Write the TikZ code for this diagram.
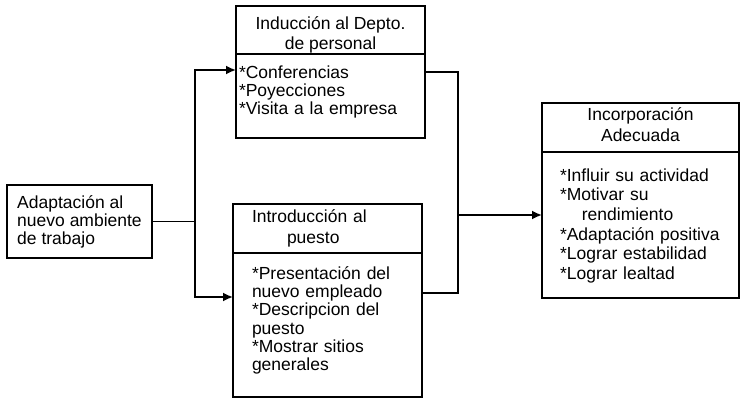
\documentclass[tikz,border=0pt]{standalone}
\usepackage{fontspec}
\setmainfont{Liberation Sans}
\usetikzlibrary{arrows.meta, positioning}
\newcommand{\stagewidth}{189pt}
\newcommand{\lw}{1.8pt}
\tikzstyle{startbox} = [% the situation the process starts from
  rectangle,
  anchor=north west,
  minimum width=145pt,
  minimum height=73pt,
  align=left,
  draw=black,
  line width=\lw,
  outer sep=0pt,
  font=\fontsize{17.5}{18}\selectfont
  ]
\tikzstyle{stagetitle} = [% heading part of a stage
  rectangle,
  anchor=north west,
  minimum width=\stagewidth,
  minimum height=48pt,
  inner sep=2pt,
  align=center,
  draw=black,
  line width=\lw,
  outer sep=0pt,
  font=\fontsize{17.5}{21}\selectfont
  ]
\tikzstyle{stagelist} = [% list of actions of a stage
  rectangle,
  inner ysep=0pt,
  align=left,
  draw=black,
  line width=\lw,
  outer sep=0pt,
  font=\fontsize{17.5}{18.3}\selectfont
  ]
\tikzstyle{flow} = [% plain flow line
  line width=\lw
  ]
\tikzstyle{arrow} = [% arrow format
  line width=\lw,
  -{Latex[length=10pt,width=9pt]}
  ]

\begin{document}
\begin{tikzpicture}[x=1pt, y=-1pt, node distance=0pt]
\useasboundingbox (0,0) rectangle (740,398);

%%% Nodes
\node[startbox] (adapt) at (7,185) {Adaptación al\\nuevo ambiente\\de trabajo};
\node[stagetitle, text height=41.3pt, text depth=2.7pt, font=\fontsize{17.5}{20}\selectfont] (inducT) at (236,6) {Inducción al Depto.\\de personal};
\node[stagelist, text width=183pt, inner xsep=3pt, text height=24.3pt, text depth=59.7pt] (inducL) [below=of inducT] {{*}Conferencias\\{*}Poyecciones\\{*}Visita a la empresa};
\node[stagetitle, minimum height=49pt, text width=151pt, inner xsep=19pt, align=left] (introdT) at (233,204) {Introducción al\\\hspace*{2em}puesto};
\node[stagelist, text width=151pt, inner xsep=19pt, text height=26.3pt, text depth=117.7pt] (introdL) [below=of introdT] {{*}Presentación del\\nuevo empleado\\{*}Descripcion del\\puesto\\{*}Mostrar sitios\\generales};
\node[stagetitle, minimum width=197pt, minimum height=49pt, text height=36.3pt, text depth=8.7pt] (incorpT) at (542,103) {Incorporación\\Adecuada};
\node[stagelist, text width=161pt, inner xsep=18pt, text height=29.3pt, text depth=116.7pt, font=\fontsize{17.5}{19.6}\selectfont] (incorpL) [below=of incorpT] {{*}Influir su actividad\\{*}Motivar su\\\hspace*{1.25em}rendimiento\\{*}Adaptación positiva\\{*}Lograr estabilidad\\{*}Lograr lealtad};

\coordinate[right=43pt of adapt.east] (fork);
\coordinate (merge) at (458,215);

%%%
\draw[flow] (adapt.east) -- (fork);
\draw[arrow] (fork) |- ([yshift=26pt]inducL.west);
\draw[arrow] (fork) |- ([yshift=28pt]introdL.west);
\draw[flow] ([yshift=24pt]inducL.east) -| (merge);
\draw[flow] ([yshift=32pt]introdL.east) -| (merge);
\draw[arrow] (merge) -- (merge -| incorpL.west);

\end{tikzpicture}
\end{document}
